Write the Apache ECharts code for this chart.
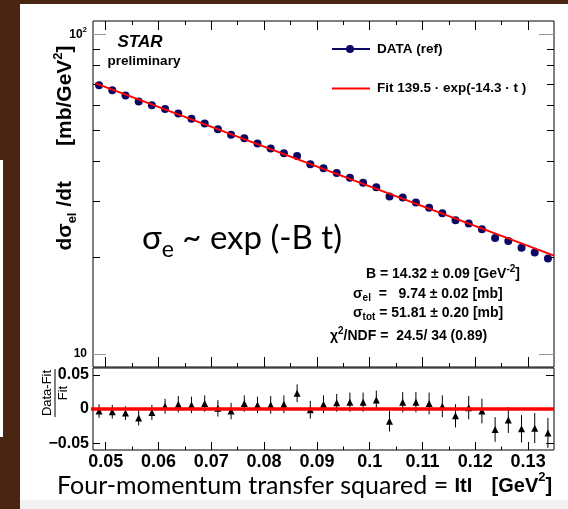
<!DOCTYPE html>
<html>
<head>
<meta charset="utf-8">
<script src="https://cdn.jsdelivr.net/npm/echarts@6.0.0/dist/echarts.min.js"></script>
<style>
html, body { margin: 0; padding: 0; background: #fff; }
#chart { width: 568px; height: 509px; }
</style>
</head>
<body>
<div id="chart"></div>
<script>
// |t| bin centres [GeV^2]
const tValues = [0.04875, 0.05125, 0.05375, 0.05625, 0.05875, 0.06125, 0.06375, 0.06625, 0.06875, 0.07125,
  0.07375, 0.07625, 0.07875, 0.08125, 0.08375, 0.08625, 0.08875, 0.09125, 0.09375, 0.09625,
  0.09875, 0.10125, 0.10375, 0.10625, 0.10875, 0.11125, 0.11375, 0.11625, 0.11875, 0.12125,
  0.12375, 0.12625, 0.12875, 0.13125, 0.13375]
// dsigma/dt [mb/GeV^2]
const dsdtValues = [69.26, 66.76, 64.29, 61.60, 59.92, 58.33, 56.45, 54.41, 52.61, 50.41,
  48.44, 47.26, 45.51, 43.91, 42.41, 41.57, 39.17, 38.09, 36.83, 35.57,
  34.32, 33.22, 31.07, 30.84, 29.75, 28.65, 27.53, 26.20, 25.58, 24.56,
  23.06, 22.56, 21.49, 20.75, 19.88]
// (Data-Fit)/Fit and its error
const residValues = [-0.003, -0.004, -0.006, -0.013, -0.005, 0.004, 0.007, 0.006, 0.008, 0.001,
  -0.003, 0.008, 0.006, 0.006, 0.007, 0.023, -0.001, 0.007, 0.009, 0.010,
  0.010, 0.013, -0.018, 0.010, 0.010, 0.008, 0.004, -0.010, 0.002, -0.003,
  -0.030, -0.016, -0.029, -0.028, -0.035]
const residErrors = [0.010, 0.010, 0.010, 0.011, 0.011, 0.011, 0.012, 0.012, 0.012, 0.012,
  0.012, 0.012, 0.012, 0.013, 0.013, 0.013, 0.013, 0.013, 0.013, 0.014,
  0.014, 0.014, 0.015, 0.015, 0.015, 0.016, 0.016, 0.017, 0.017, 0.018,
  0.018, 0.019, 0.020, 0.022, 0.022]
// fit line end points and zero line
const fitT = [0.048, 0.1349]
const fitValues = [70.3, 20.3]
const zeroT = [0.0461, 0.1349]
const zeroValues = [0, 0]
// ticks
const xMajorTicks = [0.05, 0.06, 0.07, 0.08, 0.09, 0.1, 0.11, 0.12, 0.13]
const xMinorTicks = [0.055, 0.065, 0.075, 0.085, 0.095, 0.105, 0.115, 0.125]
const yMajorTicks = [10, 100]
const yMinorTicks = [20, 30, 40, 50, 60, 70, 80, 90]
const residTicks = [-0.05, 0, 0.05]

const X_MIN = 0.0476, X_MAX = 0.1349
const Y_MIN = 9.1, Y_MAX = 110
const HELV = 'Liberation Sans'
const SLIDE = 'Lato'
const NAVY = '#0a0a66'
const BROWN = '#4a2612'

function zip(a, b){
  return a.map((v, i) => [v, b[i]])
}
function font(size, weight, family, extra){
  return Object.assign({fontSize: size, fontWeight: weight || 'normal', fontFamily: family || HELV, fill: '#000'}, extra || {})
}
function labelFont(size, extra){
  return Object.assign({fontSize: size, fontWeight: 'bold', fontFamily: HELV, color: '#000'}, extra || {})
}

function xAxisTicks(grid, pos, ticks, len, withLabel){
  return {
    type: 'value', gridIndex: grid, position: pos, min: X_MIN, max: X_MAX,
    axisLine: {show: false, onZero: false},
    splitLine: {show: false},
    axisTick: {show: true, inside: true, length: len, customValues: ticks, lineStyle: {color: '#000', width: 1}},
    axisLabel: withLabel ? Object.assign({
      show: true, customValues: ticks, margin: 3,
      formatter: v => String(+(+v).toFixed(2))
    }, labelFont(18)) : {show: false}
  }
}
function yLogTicks(pos, ticks, len, color, withLabel){
  return {
    type: 'log', logBase: 10, gridIndex: 0, position: pos, min: Y_MIN, max: Y_MAX,
    axisLine: {show: false, onZero: false},
    splitLine: {show: false},
    axisTick: {show: true, inside: true, length: len, customValues: ticks, lineStyle: {color: color, width: 1}},
    axisLabel: withLabel ? Object.assign({
      show: true, customValues: ticks, margin: 6,
      formatter: v => (+v >= 100 ? '{b|10}{sup|2}' : '{b|10}'),
      rich: {
        b: labelFont(12, {lineHeight: 16}),
        sup: labelFont(8, {verticalAlign: 'top', lineHeight: 16})
      }
    }, labelFont(12)) : {show: false}
  }
}
function yResTicks(pos, len, withLabel){
  return {
    type: 'value', gridIndex: 1, position: pos, min: -0.06, max: 0.06,
    axisLine: {show: false, onZero: false},
    splitLine: {show: false},
    axisTick: {show: true, inside: true, length: len, customValues: residTicks, lineStyle: {color: '#000', width: 1}},
    axisLabel: withLabel ? Object.assign({
      show: true, customValues: residTicks, margin: 4,
      formatter: v => (+v === 0 ? '0' : (+v > 0 ? '0.05' : '\u22120.05'))
    }, labelFont(16)) : {show: false}
  }
}

const subRich = {
  m: font(14, 'bold', HELV, {lineHeight: 19}),
  sub: font(10, 'bold', HELV, {verticalAlign: 'bottom', lineHeight: 12}),
  sup: font(10, 'bold', HELV, {verticalAlign: 'top', lineHeight: 12})
}

const graphics = [
  {type: 'rect', shape: {x: 0, y: 0, width: 568, height: 4}, style: {fill: BROWN}},
  {type: 'rect', shape: {x: 0, y: 0, width: 20, height: 509}, style: {fill: BROWN}},
  {type: 'rect', shape: {x: 0, y: 160, width: 3, height: 277}, style: {fill: '#ffffff'}},
  {type: 'rect', shape: {x: 20, y: 500, width: 548, height: 9}, style: {fill: '#f2f2f2'}},

  {type: 'text', x: 140, y: 42, style: Object.assign({text: 'STAR', align: 'center', verticalAlign: 'middle'}, font(17, 'bold', HELV, {fontStyle: 'italic'}))},
  {type: 'text', x: 144, y: 61, style: Object.assign({text: 'preliminary', align: 'center', verticalAlign: 'middle'}, font(13.5, 'bold'))},

  {type: 'line', shape: {x1: 332, y1: 49, x2: 370, y2: 49}, style: {stroke: NAVY, lineWidth: 2}},
  {type: 'circle', shape: {cx: 350, cy: 49, r: 4}, style: {fill: NAVY}},
  {type: 'text', x: 377, y: 49, style: Object.assign({text: 'DATA (ref)', align: 'left', verticalAlign: 'middle'}, font(13.5, 'bold'))},
  {type: 'line', shape: {x1: 332, y1: 88.5, x2: 370, y2: 88.5}, style: {stroke: '#ff0000', lineWidth: 2}},
  {type: 'text', x: 377, y: 88, style: Object.assign({text: 'Fit 139.5 \u00b7 exp(-14.3 \u00b7 t )', align: 'left', verticalAlign: 'middle'}, font(13.5, 'bold'))},

  {type: 'text', x: 142, y: 238, style: Object.assign({
    text: '{a|\u03c3}{s|e}{a| ~ exp (-B t)}', align: 'left', verticalAlign: 'middle',
    rich: {
      a: font(33, 'normal', SLIDE, {lineHeight: 46}),
      s: font(23, 'normal', SLIDE, {verticalAlign: 'bottom', lineHeight: 27})
    }
  }, font(33, 'normal', SLIDE))},

  {type: 'text', x: 366, y: 274, style: Object.assign({text: '{m|B = 14.32 \u00b1 0.09 [GeV}{sup|-2}{m|]}', align: 'left', verticalAlign: 'middle', rich: subRich}, font(14, 'bold'))},
  {type: 'text', x: 353, y: 294, style: Object.assign({text: '{m|\u03c3}{sub|el}{m|  =   9.74 \u00b1 0.02 [mb]}', align: 'left', verticalAlign: 'middle', rich: subRich}, font(14, 'bold'))},
  {type: 'text', x: 353, y: 313, style: Object.assign({text: '{m|\u03c3}{sub|tot}{m| = 51.81 \u00b1 0.20 [mb]}', align: 'left', verticalAlign: 'middle', rich: subRich}, font(14, 'bold'))},
  {type: 'text', x: 330, y: 336, style: Object.assign({text: '{m|\u03c7}{sup|2}{m|/NDF =  24.5/ 34 (0.89)}', align: 'left', verticalAlign: 'middle', rich: subRich}, font(14, 'bold'))},

  {type: 'text', x: 65, y: 148, rotation: Math.PI / 2, style: Object.assign({
    text: '{t|d\u03c3}{sub|el}{t| /dt      [mb/GeV}{sup|2}{t|]}', align: 'center', verticalAlign: 'middle',
    rich: {
      t: font(21, 'bold', HELV, {lineHeight: 27}),
      sub: font(13, 'bold', HELV, {verticalAlign: 'bottom', lineHeight: 16}),
      sup: font(13, 'bold', HELV, {verticalAlign: 'top', lineHeight: 16})
    }
  }, font(21, 'bold'))},

  {type: 'group', x: 55, y: 393, rotation: Math.PI / 2, children: [
    {type: 'text', x: 0, y: -8, style: Object.assign({text: 'Data-Fit', align: 'center', verticalAlign: 'middle'}, font(13))},
    {type: 'line', shape: {x1: -24, y1: 0, x2: 24, y2: 0}, style: {stroke: '#000', lineWidth: 1}},
    {type: 'text', x: 0, y: 8, style: Object.assign({text: 'Fit', align: 'center', verticalAlign: 'middle'}, font(13))}
  ]},

  {type: 'text', x: 57, y: 486, style: Object.assign({
    text: '{n|Four-momentum transfer squared = }{b|ItI}{n|   }{b|[GeV}{bs|2}{b|]}', align: 'left', verticalAlign: 'middle',
    rich: {
      n: font(25, 'normal', SLIDE, {lineHeight: 30}),
      b: font(20, 'bold', HELV, {lineHeight: 30}),
      bs: font(13, 'bold', HELV, {verticalAlign: 'top', lineHeight: 22})
    }
  }, font(25, 'normal', SLIDE))}
]

const options = {
  animation: false,
  backgroundColor: '#ffffff',
  grid: [
    {left: 93, top: 21, width: 461, height: 346, show: true, borderColor: '#000', borderWidth: 1, containLabel: false},
    {left: 93, top: 368, width: 461, height: 82, show: true, borderColor: '#000', borderWidth: 1, containLabel: false}
  ],
  xAxis: [
    xAxisTicks(0, 'bottom', xMajorTicks, 10, false),
    xAxisTicks(0, 'bottom', xMinorTicks, 4, false),
    xAxisTicks(0, 'top', xMajorTicks, 9, false),
    xAxisTicks(0, 'top', xMinorTicks, 4, false),
    xAxisTicks(1, 'bottom', xMajorTicks, 8, true),
    xAxisTicks(1, 'bottom', xMinorTicks, 3.5, false)
  ],
  yAxis: [
    yLogTicks('left', yMajorTicks, 13, '#999', true),
    yLogTicks('left', yMinorTicks, 7, '#000', false),
    yLogTicks('right', yMajorTicks, 15, '#999', false),
    yLogTicks('right', yMinorTicks, 7, '#000', false),
    yResTicks('left', 7, true),
    yResTicks('right', 8, false)
  ],
  graphic: graphics,
  series: [
    {
      type: 'scatter', xAxisIndex: 0, yAxisIndex: 0,
      data: zip(tValues, dsdtValues),
      symbol: 'circle', symbolSize: 8,
      itemStyle: {color: NAVY, opacity: 1},
      z: 3
    },
    {
      type: 'line', xAxisIndex: 0, yAxisIndex: 0,
      data: zip(fitT, fitValues),
      showSymbol: false, symbol: 'none',
      lineStyle: {color: '#ff0000', width: 2},
      z: 4
    },
    {
      type: 'custom', xAxisIndex: 4, yAxisIndex: 4,
      data: tValues.map((t, i) => [t, residValues[i], residErrors[i]]),
      renderItem: function(params, api){
        const lo = api.coord([api.value(0), api.value(1) - api.value(2)])
        const hi = api.coord([api.value(0), api.value(1) + api.value(2)])
        return {
          type: 'line',
          shape: {x1: lo[0], y1: lo[1], x2: hi[0], y2: hi[1]},
          style: {stroke: '#000', lineWidth: 1}
        }
      },
      z: 3
    },
    {
      type: 'scatter', xAxisIndex: 4, yAxisIndex: 4,
      data: zip(tValues, residValues),
      symbol: 'triangle', symbolSize: [7, 7],
      itemStyle: {color: '#000', opacity: 1},
      z: 4
    },
    {
      type: 'line', xAxisIndex: 4, yAxisIndex: 4,
      data: zip(zeroT, zeroValues),
      showSymbol: false, symbol: 'none', clip: false,
      lineStyle: {color: '#ff0000', width: 3.5},
      z: 5
    }
  ]
}

const chart = echarts.init(document.getElementById('chart'))
chart.setOption(options)
window.addEventListener('resize', () => chart.resize())
</script>
</body>
</html>
